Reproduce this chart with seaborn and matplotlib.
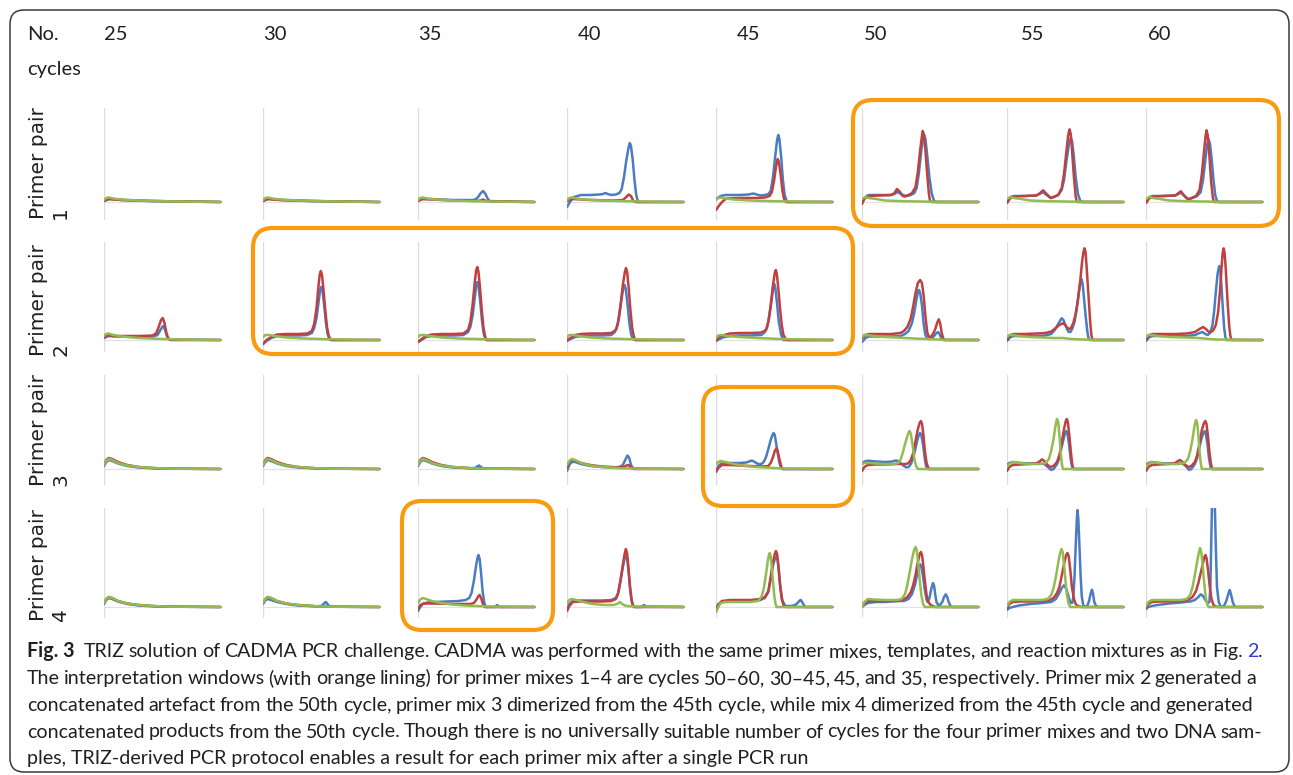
import matplotlib
matplotlib.use("Agg")
import matplotlib.pyplot as plt
from matplotlib import font_manager
from matplotlib.patches import FancyBboxPatch
import pandas as pd
import seaborn as sns

# ---- data (x = % of trace width, y = signal above baseline) ----
CYCLES = [25, 30, 35, 40, 45, 50, 55, 60]
PRIMER_PAIRS = [1, 2, 3, 4]
SERIES = ["DNA sample A", "DNA sample B", "No template"]

# interpretation windows (orange lining): primer pair -> cycles
WINDOWS = {1: [50, 55, 60], 2: [30, 35, 40, 45], 3: [45], 4: [35]}

FLAT = [(0, 1), (4, 3), (15, 2), (40, 1), (70, 0.5), (100, 0)]
G_FLAT = [(0, 2), (2, 4), (4, 4.5), (8, 3.5), (15, 2.5), (30, 1.5), (50, 0.8), (75, 0.3), (100, 0)]
G_LATE = [(0, 3), (3, 5), (6, 4), (12, 3), (20, 1.5), (35, 0.8), (60, 0.3), (100, 0)]
G_ROW2 = [(0, 3), (2, 5), (5, 5), (10, 4), (20, 2.5), (35, 1.5), (55, 0.8), (100, 0)]
DECAY_LOW = [(0, 3), (2, 7), (4, 9), (7, 8), (12, 5.5), (20, 3), (30, 1.5), (45, 0.5), (100, 0)]
DECAY = [(0, 4), (2, 8), (4, 10), (7, 9), (12, 6), (20, 3.5), (30, 2), (45, 0.8), (60, 0.3), (100, 0)]
DECAY_HIGH = [(0, 4), (2, 9), (4, 11), (7, 10), (12, 7), (20, 4), (30, 2), (45, 0.8), (60, 0.3), (100, 0)]

P1_BLUE = [
    FLAT, FLAT,
    [(0, 1), (3, 3), (10, 3), (30, 2), (48, 2), (51, 4), (54, 9), (56, 11), (58, 8), (60, 3), (62, 0.5), (100, 0)],
    [(0, -5), (3, 1), (6, 5), (12, 7), (20, 7), (28, 7.5), (31, 8), (33, 9), (35, 8), (38, 7), (42, 7.5), (45, 9),
     (47, 13), (49, 25), (51, 42), (53, 55), (54, 59), (55, 56), (56.5, 42), (58, 22), (59.5, 7), (61, 0), (100, 0)],
    [(0, 3), (4, 6), (8, 7), (20, 7), (28, 7.5), (32, 8.5), (35, 7.5), (38, 6.5), (42, 7), (45, 8), (47, 11),
     (49, 25), (51, 47), (52.5, 62), (53.5, 67), (54.5, 63), (56, 45), (57.5, 22), (59, 7), (61, 0), (100, 0)],
    [(0, 1), (3, 5), (6, 7), (15, 7), (25, 7), (28, 8), (30, 10), (32, 9), (35, 7), (38, 6), (42, 7), (45, 9),
     (47, 14), (49, 30), (51, 52), (52.5, 64), (53.5, 67), (54.5, 63), (56, 47), (58, 24), (60, 8), (62, 1), (64, 0), (100, 0)],
    [(0, 1), (3, 5), (6, 6), (15, 6), (25, 6.5), (28, 8), (31, 10), (34, 7), (37.6, 4), (40, 5), (44, 7), (47, 12),
     (49, 22), (51, 40), (53, 56), (54, 62), (55, 64), (56, 60), (57.5, 45), (59, 25), (61, 8), (63, 1), (65, 0), (100, 0)],
    [(0, 1), (3, 5), (6, 6), (15, 6), (25, 6.5), (28, 8), (30, 9.5), (33, 6), (36.5, 3), (40, 4), (44, 6), (47, 10),
     (49, 22), (51, 42), (52.5, 57), (53.7, 63), (55, 58), (56.5, 42), (58, 22), (59.5, 7), (61, 1), (63, 0), (100, 0)],
]
P1_RED = [
    FLAT, FLAT,
    [(0, 1), (4, 3), (20, 2), (50, 1), (54, 1.5), (56, 2.5), (58, 1), (100, 0)],
    [(0, 1), (5, 3), (20, 2), (40, 1.5), (48, 2), (51, 5), (53, 7.5), (55, 6), (57, 1), (59, 0), (100, 0)],
    [(0, -8), (3, -3), (6, 1), (9, 3.5), (20, 4), (35, 4), (42, 4.5), (46, 6), (48, 10), (50, 22), (51.5, 35),
     (53, 43), (54, 40), (55.5, 28), (57, 12), (58.5, 3), (60, 0), (100, 0)],
    [(0, -2), (2, 3), (5, 6), (15, 6.5), (25, 7), (28, 9), (30, 13), (32, 11), (35, 6), (37, 5.5), (40, 7), (43, 9),
     (46, 15), (48, 30), (50, 52), (51.5, 66), (52.2, 71), (53, 68), (54.5, 52), (56, 28), (57.5, 8), (58.5, 1), (60, 0), (100, 0)],
    [(0, -1), (3, 4), (6, 5.5), (15, 6), (25, 6.5), (28, 8.5), (31, 11.7), (34, 8), (37.6, 4), (40, 5), (44, 7), (47, 14),
     (49, 28), (51, 50), (52.5, 66), (53.7, 72.6), (54.8, 68), (56, 50), (57.5, 25), (59, 6), (60, 0), (100, 0)],
    [(0, -1), (3, 4), (6, 5.5), (15, 6), (25, 6.5), (28, 9), (30, 10.7), (33, 6), (36.5, 2), (39, 4), (43, 6), (46, 12),
     (48, 28), (50, 52), (51.2, 66), (52, 71.7), (53, 67), (54.5, 46), (56, 20), (57.5, 4), (58.5, 0), (100, 0)],
]
P1_GREEN = [G_FLAT, G_FLAT, G_FLAT, G_FLAT, G_FLAT, G_LATE, G_LATE, G_LATE]

P2_BLUE = [
    [(0, 2), (4, 4), (10, 3.5), (30, 3), (42, 3.5), (46, 5), (48, 9), (50, 13), (51, 14), (52.5, 10), (54, 4), (56, 0.5), (100, 0)],
    [(0, -4), (3, -1), (7, 2), (12, 4), (20, 4.5), (30, 4.5), (38, 5), (42, 7), (44, 12), (46, 22), (48, 40), (49, 50),
     (50, 53), (51, 50), (52.5, 36), (54, 18), (55.5, 6), (57, 1), (58, 0), (100, 0)],
    [(0, -2), (3, 0), (7, 3), (12, 4), (20, 4.5), (30, 4.5), (39, 5), (43, 8), (45, 13), (47, 25), (49, 44), (50, 54),
     (51, 58), (52, 54), (53.5, 38), (55, 19), (56.5, 6), (58, 1), (59, 0), (100, 0)],
    [(0, -1), (3, 1), (7, 3), (12, 4), (20, 4.5), (30, 4.5), (38, 5), (41, 8), (43, 13), (45, 25), (47, 42), (48.5, 53),
     (49.5, 55), (50.5, 51), (52, 36), (53.5, 18), (55, 6), (56.5, 1), (58, 0), (100, 0)],
    [(0, -1), (3, 1), (7, 3), (12, 4), (20, 4.5), (30, 4.5), (39, 5), (42, 8), (44, 13), (46, 25), (48, 42), (49.2, 53),
     (50, 56), (51, 52), (52.5, 36), (54, 18), (56, 5), (58, 0), (100, 0)],
    [(0, -2), (3, 2), (6, 3.5), (15, 3.5), (25, 3.5), (33, 4), (37, 6), (40, 9), (43, 17), (45, 28), (47, 42), (48.3, 49),
     (49, 50), (50, 47), (51.5, 35), (53, 16), (54.5, 5), (56, 1.5), (58, 1), (60, 2), (62, 4), (64, 7), (65.5, 8),
     (67, 5), (68.5, 1), (70, 0), (100, 0)],
    [(0, -1), (3, 3), (6, 4), (15, 4), (25, 4), (33, 4.5), (38, 6), (41, 10), (44, 16), (46, 20), (47, 21.7), (48.5, 20),
     (50.5, 14), (52, 10), (53, 8), (54.5, 8), (56, 11), (58, 18), (60, 32), (61.5, 46), (63, 57), (64, 60.7), (65, 56),
     (66, 44), (67.5, 25), (69, 9), (70, 2), (71, 0), (100, 0)],
    [(0, -1), (3, 3), (6, 4), (15, 4), (25, 4), (35, 4), (42, 5), (46, 7), (48.5, 8), (51, 6), (53, 5), (55, 7), (57, 14),
     (58.5, 28), (60, 48), (61.5, 66), (62.5, 72), (63, 74), (63.8, 70), (64.8, 55), (66, 32), (67.2, 12), (68.2, 3),
     (69, 0), (100, 0)],
]
P2_RED = [
    [(0, 3), (3, 5), (8, 4), (30, 4), (42, 4.5), (45, 7), (47, 13), (49, 20), (50.5, 22), (52, 17), (53.5, 8), (55, 2), (57, 0), (100, 0)],
    [(0, -4), (3, 0), (7, 3), (12, 5.5), (20, 6), (30, 6), (38, 6.5), (42, 9), (44, 16), (46, 32), (47.5, 52), (48.7, 65),
     (49.7, 69), (50.7, 65), (52, 50), (53.5, 30), (55, 13), (56.5, 4), (58, 1), (59, 0), (100, 0)],
    [(0, -2), (3, 1), (7, 4), (12, 5.5), (20, 6), (30, 6), (39, 6.5), (43, 10), (45, 18), (47, 36), (48.7, 57), (50, 70),
     (51, 73), (52, 68), (53.3, 52), (54.8, 30), (56.3, 12), (57.8, 3), (59, 0), (100, 0)],
    [(0, 0), (3, 2), (7, 5), (12, 6), (20, 6.5), (30, 6.5), (38, 7), (42, 10), (44, 18), (46, 35), (48, 55), (49.7, 68),
     (50.7, 72), (51.7, 68), (53, 52), (54.5, 30), (56, 12), (57.5, 3), (59, 0), (100, 0)],
    [(0, 0), (3, 3), (7, 5), (12, 6.5), (20, 7), (30, 7), (39, 7.5), (43, 10), (45, 18), (47, 35), (49, 55), (50.5, 67),
     (51.4, 70), (52.3, 66), (53.5, 52), (55, 32), (56.5, 15), (58, 5), (60, 1), (61, 0), (100, 0)],
    [(0, 2), (3, 5), (6, 6), (15, 6), (25, 6), (33, 7), (36, 9), (39, 13), (42, 22), (44, 34), (46, 47), (48, 57),
     (50, 60), (51.5, 57), (53, 44), (54.5, 24), (56, 8), (57.5, 3), (59, 3), (61, 6), (63, 11), (64.5, 17), (66, 20.7),
     (67.3, 16), (68.5, 7), (70, 1), (71, 0), (100, 0)],
    [(0, 1), (3, 5), (6, 6), (15, 6), (25, 6.5), (33, 7), (38, 8.5), (42, 12), (45, 15), (48, 16.7), (50, 15), (52, 12),
     (53.5, 11), (55, 12), (57, 17), (59, 26), (61, 40), (63, 60), (64.5, 78), (65.7, 88), (66.6, 91.7), (67.5, 88),
     (68.5, 72), (70, 45), (71.5, 18), (72.5, 5), (73.5, 0), (100, 0)],
    [(0, 1), (3, 5), (6, 6), (15, 6), (25, 6), (35, 6.5), (42, 8), (46, 11), (49, 13), (51.5, 11), (54, 8), (56, 8),
     (58, 10), (60, 15), (62, 28), (63.5, 48), (64.8, 70), (65.8, 86), (66.7, 91.7), (67.6, 87), (68.6, 70), (70, 40),
     (71.5, 14), (72.5, 4), (73.5, 0), (100, 0)],
]
P2_GREEN = [
    [(0, 4), (2, 6), (4, 6.5), (8, 5), (15, 3.5), (30, 2), (50, 1), (75, 0.3), (100, 0)],
    G_ROW2, G_ROW2, G_ROW2,
    [(0, 2), (2, 4.5), (5, 5), (10, 4), (20, 3), (35, 2), (55, 1), (100, 0)],
    [(0, 3), (2, 5), (5, 5), (10, 4), (20, 3), (30, 2.5), (45, 1.5), (55, 1), (70, 0.3), (100, 0)],
    [(0, 3), (2, 5), (5, 5), (10, 4), (20, 3), (30, 2.5), (40, 2), (48, 2), (55, 1), (70, 0.3), (100, 0)],
    [(0, 3), (2, 5), (5, 5), (10, 4), (20, 3), (35, 2.5), (45, 2), (50, 1.5), (60, 0.5), (100, 0)],
]

P3_BLUE = [
    DECAY_LOW, DECAY_LOW,
    [(0, 3), (2, 7), (4, 9), (7, 8), (12, 5.5), (20, 3), (30, 1.5), (45, 0.8), (49, 1), (51, 2.5), (52.5, 3.5), (54, 2), (56, 0.5), (100, 0)],
    [(0, -2), (2, 4), (4, 7), (7, 7), (12, 5), (20, 3), (30, 2), (40, 1.5), (45, 2), (48, 4), (50, 9), (52, 13.5),
     (53.5, 11), (55, 4), (57, 0.5), (100, 0)],
    [(0, -2), (2, 3), (5, 6), (12, 6), (20, 6), (26, 6.5), (28.5, 7.5), (30, 8.3), (32, 8), (34.5, 6), (36.5, 5),
     (39, 5), (41, 7), (43, 12), (45, 20), (47, 29), (48.5, 34), (49.5, 36), (50.5, 34), (51.5, 27), (53, 16),
     (54.5, 6), (56, 1), (58, 0), (100, 0)],
    [(0, 5), (2, 7.5), (5, 8.3), (12, 7.5), (20, 7), (26, 7.5), (29, 8.5), (31, 8), (34, 5), (36, 3), (38, 1.7), (40, 2),
     (42, 5), (44, 11), (46, 21), (48, 31), (49.3, 35), (50, 36), (51, 34), (52.5, 24), (54, 10), (55, 3), (56, 0), (100, 0)],
    [(0, 4), (2, 6), (5, 7), (12, 6), (20, 5.5), (28, 5.5), (32, 5), (35, 2), (38, -1), (40, 0), (43, 5), (45, 11),
     (47, 22), (49, 32), (50.3, 37), (51, 38), (52, 35), (53.3, 25), (54.7, 10), (56, 2), (57, 0), (100, 0)],
    [(0, 4), (2, 6), (5, 7), (12, 6), (20, 5.5), (28, 5.5), (32, 5), (35, 2), (37, -1), (39, 0), (42, 5), (44, 11),
     (46, 22), (48, 32), (49.8, 37), (50.5, 38), (51.5, 35), (52.8, 25), (54.2, 10), (55.5, 2), (56.5, 0), (100, 0)],
]
P3_RED = [
    DECAY_HIGH, DECAY_HIGH, DECAY_HIGH,
    [(0, 2), (2, 7), (4, 9), (7, 8.5), (12, 6), (20, 4), (30, 2.5), (45, 1.5), (49, 2), (51, 3.5), (53, 4), (55, 1.5), (57, 0), (100, 0)],
    [(0, -3), (2, 1), (5, 4), (12, 4), (20, 3.5), (30, 3), (40, 2.5), (45, 3), (47, 6), (49, 12), (50.5, 18), (52, 20.7),
     (53, 18), (54.5, 10), (56, 3), (57, 0), (100, 0)],
    [(0, -2), (2, 2), (5, 4), (12, 4.5), (20, 4.5), (30, 5), (38, 5), (40, 6), (42, 9), (44, 16), (46, 28), (48, 40),
     (49.5, 46), (50.6, 48), (51.6, 45), (52.8, 34), (54, 18), (55.5, 6), (57, 1), (58, 0), (100, 0)],
    [(0, -2), (2, 2), (5, 4), (12, 4.5), (20, 5), (26, 6), (28.5, 8), (30, 9.7), (32, 8), (35, 4), (37, 2), (40, 3),
     (43, 7), (45, 14), (47, 26), (49, 40), (50.5, 48), (51.4, 50), (52.3, 47), (53.5, 34), (55, 16), (56, 5), (57, 0), (100, 0)],
    [(0, -2), (2, 2), (5, 4), (12, 4.5), (20, 5), (25, 6), (27.5, 8), (29, 9), (31, 7.5), (34, 4), (36.5, 2), (39, 3),
     (42, 7), (44, 14), (46, 26), (48, 39), (49.8, 46), (51, 48), (52, 45), (53.2, 33), (54.6, 16), (55.8, 5), (57, 0), (100, 0)],
]
P3_GREEN = [
    DECAY, DECAY, DECAY, DECAY,
    [(0, 5), (2, 7), (4, 8), (8, 7), (15, 5), (25, 3), (35, 2), (50, 1), (60, 0.3), (100, 0)],
    [(0, 5), (2, 6), (5, 6), (12, 5.5), (20, 5), (28, 5), (31, 6), (33, 9), (35, 16), (37, 25), (39, 33), (40.3, 37),
     (41, 38), (42, 35), (43.5, 24), (45, 10), (46.5, 3), (48, 0), (100, 0)],
    [(0, 2), (2, 5), (5, 7), (10, 6), (20, 5), (28, 5), (33, 6), (36, 10), (38, 18), (40, 30), (41.5, 42), (42.5, 48),
     (43, 50), (44, 47), (45, 35), (46, 18), (47, 6), (48, 0), (100, 0)],
    [(0, 2), (2, 5), (5, 7), (10, 6), (20, 5), (28, 5), (33, 6), (36, 10), (38, 18), (40, 30), (41.5, 42), (42.5, 47),
     (43, 49), (44, 46), (45, 34), (46, 18), (47, 6), (48, 0), (100, 0)],
]

P4_BLUE = [
    DECAY_LOW,
    [(0, 3), (2, 6.5), (4, 8), (7, 7), (12, 5), (20, 3), (30, 1.5), (45, 0.7), (50, 1), (52, 3), (54, 5), (56, 2), (58, 0.3), (100, 0)],
    [(0, -4), (2, 0), (4, 3), (8, 4.5), (15, 5), (25, 5.5), (35, 6), (41, 7), (44, 9), (46, 14), (48, 26), (50, 42),
     (51.3, 50), (52, 52), (53, 48), (54.2, 34), (55.5, 16), (57, 4), (58.5, 0), (66, 0), (68, 2), (70, 0), (100, 0)],
    [(0, -2), (2, 3), (5, 6), (12, 6.5), (20, 6.5), (30, 6.5), (38, 7), (42, 9), (44, 14), (46, 26), (48, 40), (49.6, 49),
     (50.7, 53), (51.7, 49), (53, 34), (54.5, 15), (56, 3), (57.5, 0), (64, 0), (66, 2), (68, 0.5), (100, 0)],
    [(0, -2), (2, 3), (5, 5), (12, 6), (20, 6), (30, 6), (38, 7), (42, 9), (45, 15), (47, 28), (49, 42), (50.8, 49),
     (52, 50), (53, 47), (54.2, 34), (55.5, 18), (57, 7), (58.5, 3), (60, 1), (65, 1), (68, 2), (70, 4), (72, 6.5),
     (73, 7), (74.5, 4), (76, 1), (77, 0), (100, 0)],
    [(0, 0), (2, 2), (5, 4), (12, 5), (20, 5), (30, 6), (36, 6), (40, 8), (43, 13), (45.5, 22), (47.5, 33), (49, 41),
     (50, 42.7), (51, 40), (52.5, 30), (54, 17), (55.5, 7), (56.5, 5), (58, 9), (59.5, 18), (61, 24), (62, 21),
     (63, 12), (64, 5), (65.5, 2), (67, 2), (69, 5), (70.5, 10), (72, 12.7), (73.2, 10), (74.5, 5), (76, 1), (77, 0), (100, 0)],
    [(0, -3), (2, -1), (5, 0), (10, 1.5), (20, 3), (30, 4), (38, 5), (42, 8), (45, 14), (47, 19), (49, 21.7), (51, 18),
     (53, 10), (54.5, 4), (56, 4), (57, 10), (58, 30), (59, 60), (60, 88), (60.6, 97), (61.3, 88), (62.3, 60),
     (63.3, 30), (64.3, 10), (65.5, 2), (67, 0), (69, 1), (70.5, 6), (72, 14), (73, 17.3), (74, 13), (75, 5),
     (76.5, 1), (78, 0), (100, 0)],
    [(0, -2), (2, 0), (5, 1), (10, 2), (20, 3.5), (30, 4.5), (38, 5.5), (42, 7), (45, 10), (47, 12.7), (49, 11),
     (51, 7), (53, 4), (54.5, 5), (55.3, 20), (56, 60), (56.8, 110), (57.5, 140), (58.2, 140), (59, 110), (60, 60),
     (61, 20), (62.5, 5), (64, 1), (65.5, 0), (67, 1), (69, 6), (71, 14), (72, 17), (73, 13), (74.5, 5), (76, 1),
     (77, 0), (100, 0)],
]
P4_RED = [
    DECAY, DECAY,
    [(0, -2), (2, 2), (5, 3.5), (15, 3.5), (30, 3), (45, 3), (48, 4), (50, 7), (52, 11), (53, 12), (54.5, 8), (56, 2.5), (57.5, 0), (100, 0)],
    [(0, -4), (2, 1), (5, 5), (12, 5.5), (20, 5.5), (30, 5.5), (38, 6), (42, 8), (44, 14), (46, 27), (48, 42), (49.5, 53),
     (50.6, 58), (51.6, 54), (52.8, 40), (54, 22), (55.5, 7), (57, 1), (58, 0), (100, 0)],
    [(0, -4), (2, 2), (5, 6), (12, 7), (20, 7), (30, 7), (38, 8), (42, 10), (45, 16), (47, 30), (49, 45), (50.5, 53),
     (51.5, 56), (52.5, 53), (53.7, 40), (55, 22), (56.5, 8), (58, 2), (60, 0), (100, 0)],
    [(0, 1), (2, 4), (5, 6), (12, 6), (20, 6), (30, 6), (35, 7), (39, 10), (42, 15), (44, 22), (46, 32), (48, 45),
     (49.6, 53), (50.6, 55), (51.6, 52), (52.8, 40), (54, 26), (55.5, 12), (57, 5), (59, 2), (61, 1), (63, 0), (100, 0)],
    [(0, -1), (2, 3), (5, 5), (12, 5.5), (20, 5.5), (30, 6), (36, 6.5), (40, 9), (43, 14), (45, 20), (47, 31), (49, 43),
     (50.8, 52), (52, 54), (53, 51), (54.3, 38), (55.8, 20), (57.5, 8), (59, 3), (61, 1), (64, 0), (100, 0)],
    [(0, -1), (2, 3), (5, 5), (12, 5.5), (20, 5.5), (30, 6), (36, 7), (40, 10), (43, 16), (45, 24), (47, 34), (49, 44),
     (50.2, 50), (51, 52), (52, 49), (53.3, 37), (54.8, 20), (56.3, 8), (58, 2), (60, 0.5), (62, 0), (100, 0)],
]
P4_GREEN = [
    DECAY, DECAY,
    [(0, 4), (2, 7.5), (4, 9), (7, 8), (12, 6), (20, 4), (30, 2.5), (40, 1.5), (50, 1), (60, 0.5), (100, 0)],
    [(0, 4), (2, 7), (4, 8), (8, 7), (14, 5), (22, 3), (32, 2), (40, 2), (43, 3), (45.5, 5), (48, 2.5), (51, 1), (60, 0.5), (100, 0)],
    [(0, -5), (2, 0), (4, 4), (8, 5), (20, 5), (30, 5), (36, 6), (39, 10), (41, 18), (43, 33), (44.5, 46), (45.5, 52),
     (46.2, 54), (47, 51), (48, 40), (49, 25), (50, 12), (51, 4), (52, 0), (100, 0)],
    [(0, 0), (2, 5), (5, 8), (10, 7.5), (20, 7), (30, 7), (34, 8), (37, 13), (39, 22), (41, 35), (43, 48), (44.8, 57),
     (46, 60), (47, 57), (48.2, 45), (49.5, 28), (51, 12), (52.5, 3), (54, 0), (100, 0)],
    [(0, 1), (2, 5), (5, 7), (10, 7), (20, 7), (30, 7), (35, 8), (38, 12), (40, 19), (42, 30), (44, 44), (45.6, 54),
     (46.8, 58), (47.8, 55), (49, 43), (50.3, 26), (51.5, 12), (53, 3), (54.5, 0), (100, 0)],
    [(0, 1), (2, 5), (5, 7), (10, 7), (20, 7), (30, 7), (35, 8), (38, 12), (40, 20), (42, 32), (44, 46), (45.5, 55),
     (46.5, 59), (47.5, 55), (48.7, 42), (50, 24), (51.3, 10), (52.7, 2), (54, 0), (100, 0)],
]

TRACES = {
    1: (P1_BLUE, P1_RED, P1_GREEN),
    2: (P2_BLUE, P2_RED, P2_GREEN),
    3: (P3_BLUE, P3_RED, P3_GREEN),
    4: (P4_BLUE, P4_RED, P4_GREEN),
}

FIG_LABEL = "Fig. 3"
CAPTION_LINES = [
    "TRIZ solution of CADMA PCR challenge. CADMA was performed with the same primer mixes, templates, and reaction mixtures as in Fig. 2.",
    "The interpretation windows (with orange lining) for primer mixes 1–4 are cycles 50–60, 30–45, 45, and 35, respectively. Primer mix 2 generated a",
    "concatenated artefact from the 50th cycle, primer mix 3 dimerized from the 45th cycle, while mix 4 dimerized from the 45th cycle and generated",
    "concatenated products from the 50th cycle. Though there is no universally suitable number of cycles for the four primer mixes and two DNA sam-",
    "ples, TRIZ-derived PCR protocol enables a result for each primer mix after a single PCR run",
]

# ---- layout (pixels) ----
W, H = 1293, 775
COL_LEFT = [104, 263, 418, 567, 716, 862, 1007, 1146]
HEADER_X = [104, 263, 418, 578, 737, 864, 1021, 1148]
ROW_TOP = [108, 242, 375, 508]
ROW_BOTTOM = [220, 352, 485, 618]
ROW_BASE = [202, 340, 469, 607]
LABEL_BOTTOM = [219, 356, 486, 621]
BOX_PX = {1: (853, 100, 1279, 226), 2: (253, 228, 853, 354), 3: (703, 387, 853, 506), 4: (402, 501, 553, 630)}
CAP_BASE = [657, 684, 711, 737.5, 764]
CAP_RIGHT = [1263, 1256, 1253, 1262]
PANEL_W = 128

PALETTE = {"DNA sample A": "#4a7cc4", "DNA sample B": "#c0403f", "No template": "#93bb50"}
ORANGE = "#fa9a0e"
INK = "#231f20"
LINK = "#2b3bd9"

sns.set_style("white")
plt.rcParams["font.family"] = ["Lato", "DejaVu Sans"]
names = {f.name for f in font_manager.fontManager.ttflist}
CAP_FONT = "Liberation Sans Narrow" if "Liberation Sans Narrow" in names else "Lato"

fig = plt.figure(figsize=(W / 100, H / 100), dpi=100)

for r, pair in enumerate(PRIMER_PAIRS):
    blue, red, green = TRACES[pair]
    for c, cyc in enumerate(CYCLES):
        left = COL_LEFT[c]
        ax = fig.add_axes([left / W, 1 - ROW_BOTTOM[r] / H, PANEL_W / W, (ROW_BOTTOM[r] - ROW_TOP[r]) / H])
        rows = []
        for name, trace in zip(SERIES, (blue[c], red[c], green[c])):
            for x, y in trace:
                rows.append({"x": x, "y": y, "series": name})
        df = pd.DataFrame(rows)
        ax.axvline(0, color="#dcdcdc", lw=1.0, zorder=0.5)
        ax.axhline(0, xmax=100 / 110, color="#e2e2e2", lw=0.9, zorder=0.5)
        sns.lineplot(data=df, x="x", y="y", hue="series", hue_order=SERIES, palette=PALETTE,
                     sort=False, estimator=None, legend=False, linewidth=1.8, ax=ax)
        ax.set_xlim(0, 110)
        ax.set_ylim(-(ROW_BOTTOM[r] - ROW_BASE[r]), ROW_BASE[r] - ROW_TOP[r])
        ax.axis("off")

# overlay in pixel coordinates
ov = fig.add_axes([0, 0, 1, 1], zorder=10)
ov.set_xlim(0, W)
ov.set_ylim(H, 0)
ov.axis("off")
ov.patch.set_alpha(0)

ov.add_patch(FancyBboxPatch((10, 10), 1279, 762, boxstyle="round,pad=0,rounding_size=14",
                            fill=False, edgecolor="#3a3a3a", lw=1.1))
for pair, cycs in WINDOWS.items():
    x0, y0, x1, y1 = BOX_PX[pair]
    ov.add_patch(FancyBboxPatch((x0, y0), x1 - x0, y1 - y0, boxstyle="round,pad=0,rounding_size=20",
                                fill=False, edgecolor=ORANGE, lw=3.0))

ov.text(27, 35, "No.", fontsize=14.5, color=INK, va="center", ha="left")
ov.text(27, 70, "cycles", fontsize=14.5, color=INK, va="center", ha="left")
for cyc, hx in zip(CYCLES, HEADER_X):
    ov.text(hx, 35, str(cyc), fontsize=14.5, color=INK, va="center", ha="left")

for r, pair in enumerate(PRIMER_PAIRS):
    ov.text(29, LABEL_BOTTOM[r], f"Primer pair\n{pair}", rotation=90, fontsize=14.5, family="DejaVu Sans",
            color=INK, ha="left", va="bottom", multialignment="left")

# caption: size fitted to the last (unjustified) line, other lines justified
renderer = fig.canvas.get_renderer()
probe = ov.text(0, 0, CAPTION_LINES[-1], fontsize=10, family=CAP_FONT)
cap_size = 1.08 * 10 * (750 - 27) / probe.get_window_extent(renderer).width
probe.remove()


def place_line(words, y, x0, x1, extra_first=0.0):
    placed = []
    total = 0.0
    for runs in words:
        items = []
        for s, wt, col in runs:
            t = ov.text(0, y, s, fontsize=cap_size, fontweight=wt, color=col, family=CAP_FONT,
                        va="baseline", ha="left")
            items.append((t, t.get_window_extent(renderer).width))
        placed.append(items)
        total += sum(w for _, w in items)
    gap = (x1 - x0 - total - extra_first) / (len(words) - 1)
    x = x0
    for i, items in enumerate(placed):
        for t, w in items:
            t.set_x(x)
            x += w
        x += gap + (extra_first if i == 0 else 0)


for i, line in enumerate(CAPTION_LINES):
    if i == len(CAPTION_LINES) - 1:
        ov.text(27, CAP_BASE[i], line, fontsize=cap_size, color=INK, family=CAP_FONT, va="baseline", ha="left")
        continue
    words = [[(w, "normal", INK)] for w in line.split(" ")]
    extra = 0.0
    if i == 0:
        words[-1] = [("2", "normal", LINK), (".", "normal", INK)]
        words = [[(FIG_LABEL, "bold", INK)]] + words
        extra = 5.0
    place_line(words, CAP_BASE[i], 27, CAP_RIGHT[i], extra)

fig.savefig("out.png", dpi=100)
